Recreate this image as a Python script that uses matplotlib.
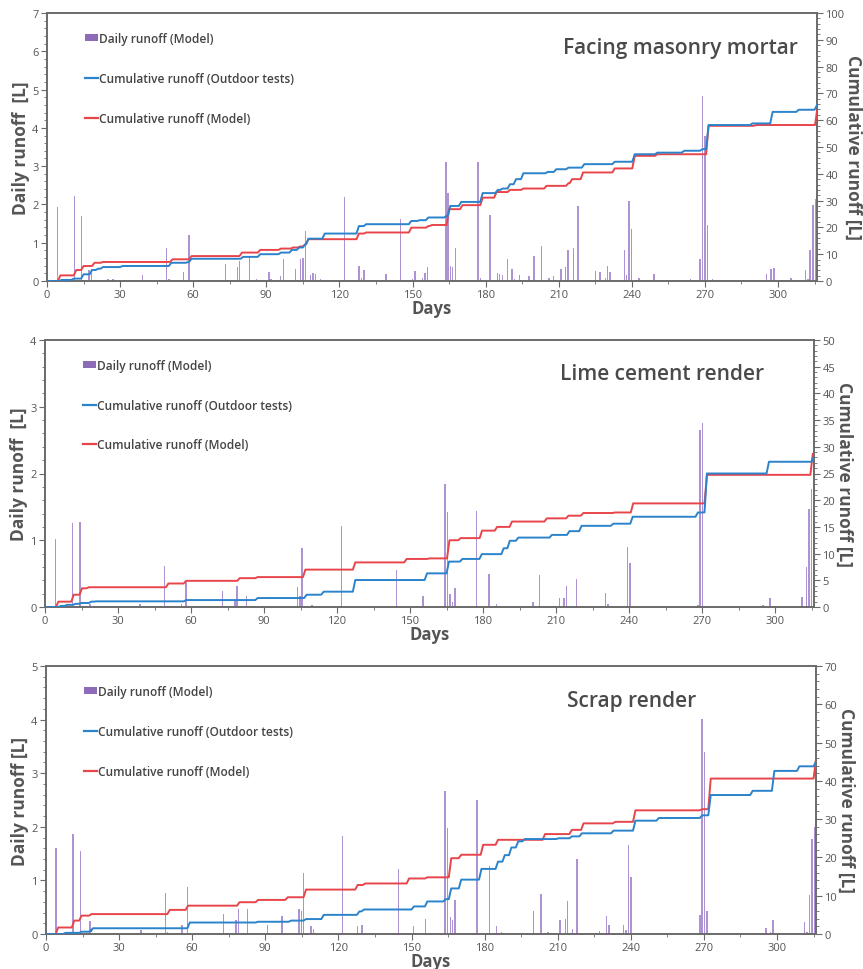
import matplotlib
matplotlib.use("Agg")
import matplotlib.pyplot as plt
from matplotlib.patches import Patch
from matplotlib.lines import Line2D
from matplotlib.ticker import MultipleLocator

plt.rcParams['font.family'] = ['Open Sans', 'DejaVu Sans']

# ---------------- data ----------------
titles = ["Facing masonry mortar", "Lime cement render", "Scrap render"]
x_ticks = [0, 30, 60, 90, 120, 150, 180, 210, 240, 270, 300]

# Facing masonry mortar
fm_bar_days = [4.2, 11.2, 14.2, 17.3, 18.3, 25, 27, 39.2, 49.0, 50, 56.0, 58.2, 73.2, 78.1, 79.1, 83.2, 86, 91.1, 92, 95.9,
               97.1, 102, 104.1, 105.1, 106, 108.2, 109.2, 110.1, 112.2, 122.1, 128, 129.1, 130, 139.2, 145.1, 150.1, 151.1,
               154, 155.2, 156.1, 163.8, 164.6, 165.7, 166.5, 167.6, 176.8, 177.9, 181.8, 184.8, 185.8, 186.9, 188.9, 190.9,
               191.8, 193.9, 197.9, 199.9, 202.9, 206, 207.9, 210.9, 212.8, 213.9, 216, 217.9, 225.1, 227, 229.1, 230, 231,
               237, 237.8, 238.9, 239.9, 243, 249.1, 264.1, 268, 269, 270.1, 271.1, 273.1, 295.2, 297.2, 298.3, 305.3,
               311.2, 312.3, 313.2, 314.3, 315.3]
fm_bar_vals = [1.94, 2.22, 1.70, 0.3, 0.32, 0.05, 0.05, 0.15, 0.87, 0.05, 0.24, 1.19, 0.45, 0.37, 0.52, 0.63, 0.06, 0.24, 0.05,
               0.13, 0.57, 0.32, 0.57, 0.61, 1.31, 0.15, 0.22, 0.17, 0.06, 2.2, 0.39, 0.09, 0.29, 0.19, 1.61, 0.04, 0.26, 0.09,
               0.2, 0.37, 3.12, 2.31, 0.39, 0.37, 0.87, 3.12, 0.09, 1.72, 0.2, 0.17, 0.15, 0.58, 0.31, 0.06, 0.16, 0.13, 0.65,
               0.92, 0.09, 0.13, 0.32, 0.37, 0.8, 0.87, 1.96, 0.26, 0.24, 0.09, 0.39, 0.24, 0.81, 0.15, 2.09, 1.35, 0.07, 0.19,
               0.06, 0.57, 4.84, 3.78, 1.46, 0.06, 0.19, 0.31, 0.35, 0.09, 0.29, 0.04, 0.81, 1.99, 2.15]
fm_obs_days = [5, 10, 14, 17.5, 20, 22, 30, 50, 57, 58.3, 79.5, 86.5, 95, 99.5, 102.5, 105, 106.3, 113, 127, 130, 148.5, 152,
               155.5, 163, 164.5, 169, 177.8, 184, 186, 189, 191.5, 194.5, 204.5, 208, 213, 219.5, 232, 240.2, 249.5, 260.5,
               268, 270.5, 288.5, 296.8, 307.5, 315]
fm_obs_vals = [0.4, 0.9, 2.5, 4.1, 4.6, 5.2, 5.6, 6.8, 7.1, 8.3, 9.0, 10.0, 10.6, 11.6, 12.5, 13.7, 15.8, 17.7, 20.5, 21.2,
               22.4, 22.7, 23.7, 24.3, 28, 29.5, 32.8, 34, 34.5, 36.1, 38, 40.2, 40.7, 41.7, 42.3, 43.6, 44.5, 47.3, 47.9,
               48.6, 49.2, 58.2, 58.8, 63.1, 63.9, 65.6]
fm_mod_days = [4.5, 11, 14, 18.5, 22, 50.5, 58.3, 79, 86.5, 95, 100, 103, 105, 106.3, 127, 130, 148.5, 155.5, 157, 164, 169.5,
               177.8, 183.5, 189, 194.5, 204, 213, 214.5, 219, 232, 240.2, 249.5, 270.5, 290, 315.2]
fm_mod_vals = [2.1, 4.1, 5.6, 6.8, 7.1, 8.1, 9.3, 10.6, 11.6, 12.1, 12.5, 12.9, 13.7, 15.6, 17.7, 18.1, 19.9, 20.5, 20.9, 26.8,
               28.3, 31.1, 33.2, 34, 34.5, 35.5, 36.5, 38, 40.5, 42, 46.7, 47.3, 57.9, 58.2, 63.5]

# Lime cement render
lc_bar_days = [4.4, 11.3, 14.3, 18.4, 39, 49.1, 56.2, 58, 72.9, 78, 78.9, 82.9, 90.9, 103.8, 104.8, 105.7, 109.8, 121.8, 144.4,
               155.4, 164.4, 165.4, 166.5, 167.4, 168.4, 177.4, 182.5, 185.5, 200.5, 203.3, 211.4, 213.3, 214.2, 218.3, 230.3,
               231.3, 239.3, 240.3, 268.3, 269.2, 270.2, 295, 298, 311, 313, 314, 315]
lc_bar_vals = [1.02, 1.26, 1.27, 0.05, 0.05, 0.61, 0.05, 0.37, 0.24, 0.1, 0.32, 0.17, 0.02, 0.3, 0.17, 0.88, 0.03, 1.21, 0.55,
               0.17, 1.85, 1.43, 0.19, 0.08, 0.28, 1.44, 0.49, 0.04, 0.08, 0.48, 0.13, 0.13, 0.32, 0.42, 0.21, 0.05, 0.9, 0.66,
               0.03, 2.65, 2.75, 0.03, 0.13, 0.15, 0.6, 1.47, 1.77]
lc_obs_days = [5.5, 8, 11.5, 14, 18, 20, 57, 86.4, 106.5, 113.5, 126.5, 156, 165, 170.5, 178.5, 187.5, 190, 193.5, 207.3, 214.5,
               219.5, 232.5, 240.5, 267.3, 271, 296.5, 315]
lc_obs_vals = [0.2, 0.4, 0.6, 0.75, 1.0, 1.06, 1.3, 1.68, 2.3, 2.87, 5.05, 6.3, 8.5, 9.0, 9.9, 11.0, 12.4, 13.0, 13.5, 14.2,
               15.2, 15.6, 16.9, 17.7, 25.0, 27.2, 28.3]
lc_mod_days = [4.5, 10.8, 14.2, 17, 49.7, 57, 79, 86.4, 106, 126.5, 147.6, 157, 165.2, 169.8, 178.6, 184.8, 190.9, 205.2, 214.1,
               220.2, 233.2, 240.7, 271, 314.5]
lc_mod_vals = [1.0, 2.3, 3.5, 3.7, 4.4, 4.9, 5.4, 5.6, 7.0, 8.35, 9.0, 9.1, 12.5, 12.9, 14.3, 15.0, 16.0, 16.6, 17.1, 17.6,
               17.7, 19.4, 24.75, 28.7]

# Scrap render
sr_bar_days = [4.1, 11.1, 14.1, 18, 39, 49, 49.9, 55.9, 58, 72.9, 77.9, 78.9, 82.8, 90.9, 96.9, 103.8, 104.8, 105.7, 108.7,
               109.7, 121.7, 127.8, 129.7, 144.6, 150.8, 155.7, 163.8, 164.8, 165.9, 166.8, 167.8, 176.8, 181.9, 184.9, 187,
               200, 203.1, 206.1, 211, 213.1, 214.1, 216.1, 218, 227.1, 230.1, 231.1, 237.1, 238.1, 239.1, 240, 268.3, 269.3,
               270.2, 271.2, 295.4, 297.3, 298.3, 311.3, 312.3, 313.4, 314.3, 315.4]
sr_bar_vals = [1.6, 1.86, 1.55, 0.24, 0.07, 0.77, 0.03, 0.16, 0.88, 0.37, 0.26, 0.47, 0.47, 0.16, 0.33, 0.47, 0.43, 1.14, 0.14,
               0.1, 1.83, 0.14, 0.17, 1.22, 0.14, 0.28, 2.66, 1.97, 0.31, 0.26, 0.64, 2.5, 1.26, 0.14, 0.03, 0.43, 0.75, 0.03,
               0.26, 0.28, 0.61, 0.09, 1.39, 0.06, 0.33, 0.17, 0.17, 0.07, 1.66, 1.07, 0.36, 4.02, 3.39, 0.42, 0.12, 0.04,
               0.26, 0.23, 0.03, 0.73, 1.78, 1.99]
sr_obs_days = [7, 13.6, 17.7, 18.3, 58, 86, 99.6, 105.7, 113, 127.6, 129.5, 150, 155.5, 163, 165.3, 169.4, 177.7, 184.5, 187.3,
               190, 192.8, 195.5, 209.3, 214.8, 218.9, 231.9, 240.9, 250.5, 268.3, 271.8, 289, 297.9, 308.2, 315]
sr_obs_vals = [0.3, 0.6, 0.9, 1.5, 3.0, 3.2, 3.5, 3.9, 5.0, 5.9, 6.4, 7.2, 8.5, 9.1, 11.9, 14.2, 17.0, 18.9, 20.6, 22.6, 24.2,
               24.8, 25.0, 25.5, 26.3, 27.0, 29.6, 30.3, 31.0, 36.3, 37.4, 42.6, 43.8, 45.0]
sr_mod_days = [4, 10.6, 13.6, 17.7, 49.8, 57.3, 78.4, 86, 98.2, 105.7, 126.9, 130, 148, 155.5, 165.3, 169.4, 178.4, 184.5,
               203.8, 214.8, 219.6, 232.6, 240.9, 268.3, 271.8, 315]
sr_mod_vals = [1.7, 3.5, 4.8, 5.2, 6.3, 7.4, 8.3, 8.9, 9.6, 11.6, 12.8, 13.2, 14.5, 14.8, 19.8, 20.7, 23.3, 24.6, 26.1, 27.2,
               28.9, 29.3, 32.3, 32.6, 40.6, 45.6]

panels = [
    dict(title=titles[0], bd=fm_bar_days, bv=fm_bar_vals, od=fm_obs_days, ov=fm_obs_vals, md=fm_mod_days, mv=fm_mod_vals,
         lmax=7, lmaj=1, rmax=100, rmaj=10, rmin=2, ylab="Daily runoff  [L]", tx=0.823),
    dict(title=titles[1], bd=lc_bar_days, bv=lc_bar_vals, od=lc_obs_days, ov=lc_obs_vals, md=lc_mod_days, mv=lc_mod_vals,
         lmax=4, lmaj=1, rmax=50, rmaj=5, rmin=1, ylab="Daily runoff  [L]", tx=0.803),
    dict(title=titles[2], bd=sr_bar_days, bv=sr_bar_vals, od=sr_obs_days, ov=sr_obs_vals, md=sr_mod_days, mv=sr_mod_vals,
         lmax=5, lmaj=1, rmax=70, rmaj=10, rmin=2, ylab="Daily runoff [L]", tx=0.760),
]

# ---------------- style ----------------
W, H = 863, 970
BAR_C = "#ad93d3"
LEG_BAR_C = "#8d6bb8"
BLUE = "#2b83cb"
RED = "#e8454b"
GRAY = "#555555"
SPINE = "#6a6a6a"
XMAX = 316

# axes boxes in pixels: left, right, top, bottom
boxes = [(47, 817, 14, 282), (45, 814, 341, 608), (46, 816, 667, 935)]


def ramp(days, vals, width=1.0):
    xs, ys = [0], [0]
    for d, v in zip(days, vals):
        xs += [d, min(d + width, XMAX)]
        ys += [ys[-1], v]
    xs.append(XMAX)
    ys.append(ys[-1])
    return xs, ys


fig = plt.figure(figsize=(W / 100, H / 100), dpi=100)

for p, (l, r, t, b) in zip(panels, boxes):
    ax = fig.add_axes([l / W, (H - b) / H, (r - l) / W, (b - t) / H])
    ax.bar(p["bd"], p["bv"], width=0.6, color=BAR_C, linewidth=0, zorder=2)
    ax.set_xlim(0, XMAX)
    ax.set_ylim(0, p["lmax"])
    ax.set_xticks(x_ticks)
    ax.xaxis.set_minor_locator(MultipleLocator(15))
    ax.yaxis.set_major_locator(MultipleLocator(p["lmaj"]))
    ax.yaxis.set_minor_locator(MultipleLocator(0.2))

    ax2 = ax.twinx()
    ox, oy = ramp(p["od"], p["ov"])
    mx, my = ramp(p["md"], p["mv"])
    ax2.plot(mx, my, color=RED, lw=1.4, solid_joinstyle="round", zorder=3)
    ax2.plot(ox, oy, color=BLUE, lw=1.4, solid_joinstyle="round", zorder=4)
    ax2.set_ylim(0, p["rmax"])
    ax2.yaxis.set_major_locator(MultipleLocator(p["rmaj"]))
    ax2.yaxis.set_minor_locator(MultipleLocator(p["rmin"]))

    for a in (ax, ax2):
        for s in a.spines.values():
            s.set_color(SPINE)
            s.set_linewidth(1.2)
        a.tick_params(which="major", length=4, width=0.8, color=SPINE, labelcolor=GRAY, labelsize=8, pad=2)
        a.tick_params(which="minor", length=2, width=0.6, color=SPINE)

    ax.set_ylabel(p["ylab"], fontsize=12.5, fontweight="bold", color=GRAY, labelpad=2)
    ax2.set_ylabel("Cumulative runoff [L]", fontsize=12.5, fontweight="bold", color=GRAY, rotation=270, labelpad=13)
    ax.set_xlabel("Days", fontsize=12, fontweight="bold", color=GRAY, labelpad=-1)

    ax.text(p["tx"], 0.873, p["title"], transform=ax.transAxes,
            ha="center", va="center", fontsize=15, fontweight="semibold", color="#4a4a4a")

    handles = [Patch(facecolor=LEG_BAR_C, edgecolor="none"),
               Line2D([], [], color=BLUE, lw=1.6),
               Line2D([], [], color=RED, lw=1.6)]
    labels = ["Daily runoff (Model)", "Cumulative runoff (Outdoor tests)", "Cumulative runoff (Model)"]
    leg = ax2.legend(handles, labels, loc="upper left", bbox_to_anchor=(0.049, 0.93), frameon=False,
                     fontsize=8.6, labelspacing=2.25, handlelength=1.1, handleheight=0.6, handletextpad=0.12,
                     borderaxespad=0, borderpad=0)
    for txt in leg.get_texts():
        txt.set_color("#444444")
        txt.set_fontweight("semibold")

fig.savefig("out.png", dpi=100)
